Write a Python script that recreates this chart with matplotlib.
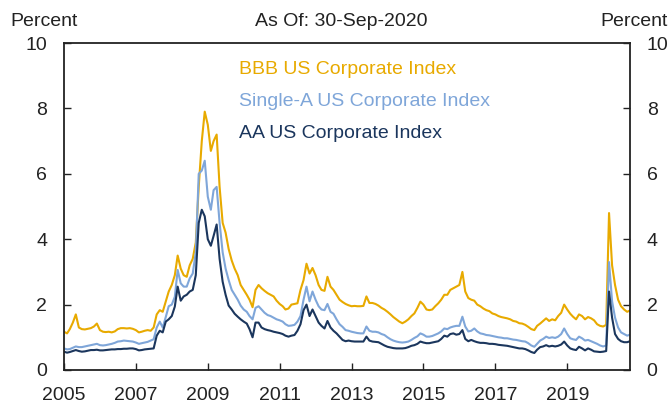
import matplotlib
matplotlib.use("Agg")
import matplotlib.pyplot as plt
import pandas as pd

plt.rcParams['font.family'] = ['Liberation Sans', 'DejaVu Sans']

# Monthly observations (first of month, Jan-2005 .. Sep-2020) plus 30-Sep-2020
dates = list(pd.date_range('2005-01-01', '2020-09-01', freq='MS')) + [pd.Timestamp('2020-09-30')]

bbb = [
    1.17, 1.12, 1.25, 1.45, 1.70, 1.30, 1.25, 1.24, 1.26, 1.28, 1.33, 1.42,   # 2005
    1.22, 1.17, 1.16, 1.17, 1.15, 1.18, 1.25, 1.28, 1.28, 1.27, 1.28, 1.26,   # 2006
    1.22, 1.15, 1.17, 1.20, 1.22, 1.20, 1.30, 1.70, 1.83, 1.78, 2.10, 2.40,   # 2007
    2.60, 2.90, 3.50, 3.10, 2.90, 2.85, 3.20, 3.40, 3.90, 5.60, 7.00, 7.90,   # 2008
    7.50, 6.70, 7.00, 7.20, 5.60, 4.50, 4.20, 3.70, 3.35, 3.10, 2.90, 2.60,   # 2009
    2.45, 2.30, 2.15, 1.92, 2.45, 2.60, 2.50, 2.42, 2.35, 2.30, 2.25, 2.12,   # 2010
    2.02, 1.95, 1.85, 1.88, 2.00, 2.02, 2.04, 2.45, 2.75, 3.25, 2.95, 3.12,   # 2011
    2.90, 2.60, 2.45, 2.42, 2.85, 2.55, 2.45, 2.30, 2.15, 2.08, 2.02, 1.98,   # 2012
    1.95, 1.96, 1.95, 1.95, 1.96, 2.25, 2.05, 2.05, 2.02, 1.97, 1.90, 1.85,   # 2013
    1.78, 1.70, 1.62, 1.55, 1.48, 1.43, 1.48, 1.55, 1.65, 1.73, 1.90, 2.09,   # 2014
    2.00, 1.85, 1.83, 1.85, 1.95, 2.04, 2.15, 2.30, 2.30, 2.45, 2.50, 2.55,   # 2015
    2.60, 3.00, 2.40, 2.20, 2.15, 2.12, 2.00, 1.95, 1.88, 1.83, 1.80, 1.73,   # 2016
    1.70, 1.65, 1.62, 1.60, 1.58, 1.55, 1.50, 1.48, 1.43, 1.42, 1.38, 1.32,   # 2017
    1.25, 1.22, 1.35, 1.42, 1.50, 1.58, 1.50, 1.55, 1.52, 1.65, 1.75, 2.00,   # 2018
    1.85, 1.72, 1.63, 1.55, 1.70, 1.65, 1.55, 1.62, 1.58, 1.52, 1.40, 1.35,   # 2019
    1.33, 1.38, 4.80, 3.20, 2.60, 2.15, 1.95, 1.85, 1.78, 1.82,               # 2020
]

single_a = [
    0.66, 0.63, 0.64, 0.68, 0.72, 0.70, 0.70, 0.72, 0.74, 0.76, 0.78, 0.80,   # 2005
    0.76, 0.75, 0.76, 0.78, 0.80, 0.83, 0.87, 0.88, 0.90, 0.89, 0.88, 0.87,   # 2006
    0.84, 0.80, 0.82, 0.84, 0.86, 0.90, 0.94, 1.30, 1.48, 1.30, 1.62, 1.95,   # 2007
    2.00, 2.24, 3.06, 2.65, 2.55, 2.55, 2.80, 2.95, 3.60, 6.00, 6.10, 6.40,   # 2008
    5.30, 4.90, 5.50, 5.60, 4.50, 3.60, 3.10, 2.75, 2.45, 2.30, 2.15, 1.97,   # 2009
    1.85, 1.78, 1.65, 1.55, 1.90, 1.95, 1.85, 1.75, 1.68, 1.65, 1.60, 1.55,   # 2010
    1.52, 1.48, 1.40, 1.35, 1.36, 1.38, 1.48, 1.65, 2.15, 2.55, 2.10, 2.40,   # 2011
    2.15, 1.95, 1.85, 1.83, 2.02, 1.78, 1.72, 1.55, 1.40, 1.32, 1.22, 1.20,   # 2012
    1.17, 1.15, 1.13, 1.12, 1.12, 1.33, 1.20, 1.17, 1.17, 1.15, 1.10, 1.07,   # 2013
    1.00, 0.94, 0.90, 0.87, 0.85, 0.84, 0.85, 0.87, 0.92, 0.98, 1.03, 1.12,   # 2014
    1.08, 1.02, 1.02, 1.04, 1.08, 1.12, 1.18, 1.27, 1.25, 1.30, 1.33, 1.35,   # 2015
    1.35, 1.63, 1.33, 1.18, 1.20, 1.27, 1.18, 1.12, 1.10, 1.07, 1.06, 1.04,   # 2016
    1.02, 1.00, 0.99, 0.97, 0.97, 0.95, 0.93, 0.92, 0.90, 0.88, 0.87, 0.82,   # 2017
    0.75, 0.71, 0.80, 0.90, 0.95, 1.02, 0.98, 1.00, 0.98, 1.02, 1.10, 1.27,   # 2018
    1.10, 0.97, 0.94, 0.92, 1.02, 0.97, 0.90, 0.92, 0.88, 0.84, 0.80, 0.75,   # 2019
    0.72, 0.75, 3.30, 2.10, 1.60, 1.30, 1.15, 1.10, 1.05, 1.08,               # 2020
]

aa = [
    0.56, 0.53, 0.55, 0.58, 0.61, 0.58, 0.56, 0.57, 0.59, 0.61, 0.61, 0.62,   # 2005
    0.60, 0.60, 0.61, 0.62, 0.63, 0.63, 0.64, 0.64, 0.65, 0.65, 0.66, 0.66,   # 2006
    0.64, 0.60, 0.61, 0.63, 0.64, 0.65, 0.66, 1.05, 1.20, 1.15, 1.48, 1.55,   # 2007
    1.65, 1.94, 2.55, 2.12, 2.25, 2.30, 2.40, 2.45, 2.90, 4.50, 4.90, 4.70,   # 2008
    4.00, 3.80, 4.10, 4.45, 3.40, 2.70, 2.30, 1.97, 1.85, 1.72, 1.63, 1.55,   # 2009
    1.48, 1.42, 1.25, 1.00, 1.45, 1.45, 1.30, 1.25, 1.22, 1.20, 1.17, 1.15,   # 2010
    1.13, 1.10, 1.05, 1.02, 1.05, 1.07, 1.20, 1.40, 1.83, 2.00, 1.65, 1.85,   # 2011
    1.65, 1.45, 1.35, 1.27, 1.50, 1.30, 1.20, 1.12, 1.02, 0.92, 0.88, 0.90,   # 2012
    0.88, 0.87, 0.87, 0.87, 0.87, 1.02, 0.90, 0.87, 0.86, 0.85, 0.80, 0.75,   # 2013
    0.71, 0.69, 0.67, 0.66, 0.66, 0.66, 0.67, 0.70, 0.74, 0.76, 0.80, 0.87,   # 2014
    0.84, 0.82, 0.82, 0.84, 0.86, 0.88, 0.95, 1.05, 1.02, 1.10, 1.12, 1.08,   # 2015
    1.10, 1.22, 0.95, 0.88, 0.92, 0.88, 0.85, 0.83, 0.83, 0.82, 0.80, 0.80,   # 2016
    0.79, 0.77, 0.76, 0.75, 0.74, 0.72, 0.70, 0.68, 0.66, 0.66, 0.64, 0.60,   # 2017
    0.55, 0.52, 0.62, 0.70, 0.72, 0.76, 0.72, 0.74, 0.72, 0.74, 0.78, 0.87,   # 2018
    0.75, 0.66, 0.63, 0.61, 0.71, 0.66, 0.60, 0.66, 0.62, 0.57, 0.56, 0.55,   # 2019
    0.56, 0.58, 2.40, 1.60, 1.10, 0.95, 0.88, 0.85, 0.85, 0.88,               # 2020
]

series_names = ["BBB US Corporate Index", "Single-A US Corporate Index", "AA US Corporate Index"]
colors = ["#E8AA00", "#7FA6D9", "#1B365D"]
tick_years = [2005, 2007, 2009, 2011, 2013, 2015, 2017, 2019]
y_ticks = [0, 2, 4, 6, 8, 10]

fig = plt.figure(figsize=(6.70, 4.03), dpi=100)
ax = fig.add_axes([64 / 670, 1 - 370 / 403, (630 - 64) / 670, (370 - 43) / 403])

for vals, c in zip([bbb, single_a, aa], colors):
    ax.plot(dates, vals, color=c, lw=1.5, solid_joinstyle='round')

ax.set_xlim(pd.Timestamp('2005-01-01'), pd.Timestamp('2020-09-30'))
ax.set_ylim(0, 10)
ax.set_xticks([pd.Timestamp(f'{y}-01-01') for y in tick_years])
ax.set_xticklabels([str(y) for y in tick_years])
ax.set_yticks(y_ticks)
ax.set_yticklabels([str(v) for v in y_ticks])

for s in ax.spines.values():
    s.set_linewidth(1.3)
    s.set_color('#222222')

ax.tick_params(axis='both', direction='in', length=5, width=1.0, labelsize=14,
               colors='#222222', pad=12)
ax.tick_params(axis='y', left=True, right=True, labelleft=True, labelright=True)
ax.tick_params(axis='x', top=False)

# Legend as coloured text
for i, (name, c) in enumerate(zip(series_names, colors)):
    fig.text(239 / 670, 1 - (69 + 32 * i) / 403, name, color=c, fontsize=14,
             ha='left', va='center')

fig.text(10 / 670, 1 - 22 / 403, "Percent", fontsize=14, ha='left', va='center', color='#222222')
fig.text(668 / 670, 1 - 22 / 403, "Percent", fontsize=14, ha='right', va='center', color='#222222')
fig.text(341 / 670, 1 - 22 / 403, "As Of: 30-Sep-2020", fontsize=14, ha='center', va='center', color='#222222')

fig.savefig("out.png", dpi=100)
